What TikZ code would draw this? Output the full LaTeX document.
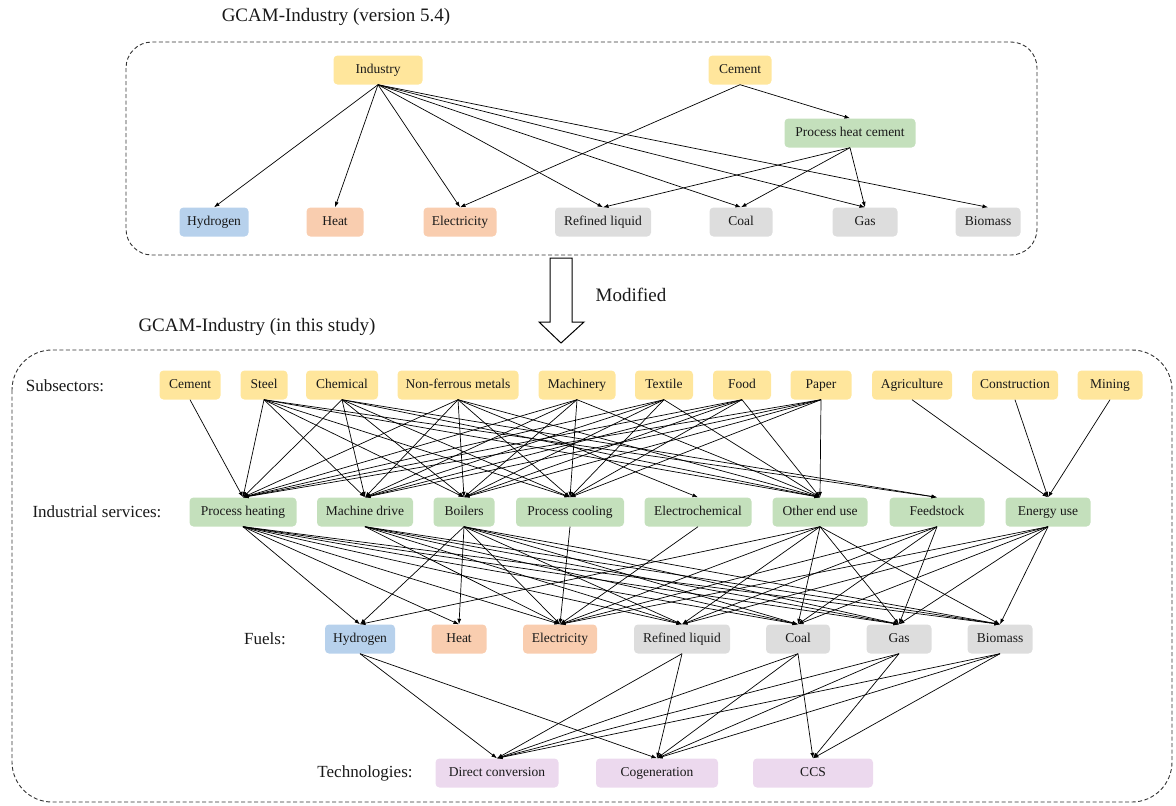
\documentclass[tikz,border=0pt]{standalone}
\usepackage{fontspec}
\setmainfont{Liberation Serif}
\usetikzlibrary{arrows.meta}
\definecolor{cyel}{HTML}{FFE69C}
\definecolor{cgrn}{HTML}{C4E0BC}
\definecolor{cblu}{HTML}{B7D1EC}
\definecolor{cora}{HTML}{F9CDAF}
\definecolor{cgry}{HTML}{DDDDDD}
\definecolor{cpur}{HTML}{ECD9EE}
\tikzset{
  bx/.style={rounded corners=4pt, inner sep=0pt, minimum height=29pt, text height=9.5pt, text depth=3pt, font=\fontsize{13.5}{15}\selectfont, text=black!90},
  yb/.style={bx, fill=cyel},
  gb/.style={bx, fill=cgrn},
  bb/.style={bx, fill=cblu},
  ob/.style={bx, fill=cora},
  rb/.style={bx, fill=cgry},
  pb/.style={bx, fill=cpur},
  lbl/.style={font=\fontsize{17}{20}\selectfont, text=black!90},
  ttl/.style={font=\fontsize{19}{22}\selectfont, text=black!90},
  edge/.style={draw=black, line width=0.7pt, -{Latex[length=5.5pt,width=4pt]}},
  frame/.style={draw=black!80, line width=0.9pt, dash pattern=on 4pt off 2.5pt}
}
\begin{document}
\begin{tikzpicture}[x=1pt,y=-1pt]
\useasboundingbox (0,0) rectangle (1176,806);
% ---------- top part ----------
\node[ttl] (t1) at (336,17) {GCAM-Industry (version 5.4)};
\draw[frame, rounded corners=26pt] (126,42) rectangle (1037,255);
\node[yb, minimum width=89] (ind) at (378,70) {Industry};
\node[yb, minimum width=63] (cemt) at (740,70) {Cement};
\node[gb, minimum width=131] (phc) at (850,133) {Process heat cement};
\node[bb, minimum width=69] (th2) at (214,222) {Hydrogen};
\node[ob, minimum width=57] (theat) at (335,222) {Heat};
\node[ob, minimum width=73] (telec) at (460,222) {Electricity};
\node[rb, minimum width=96] (tref) at (603,222) {Refined liquid};
\node[rb, minimum width=63] (tcoal) at (741,222) {Coal};
\node[rb, minimum width=65] (tgas) at (865,222) {Gas};
\node[rb, minimum width=65] (tbio) at (988,222) {Biomass};
\foreach \b in {th2,theat,telec,tref,tcoal,tgas,tbio}
  \draw[edge] (ind.south) -- (\b.north);
\draw[edge] (cemt.south) -- (telec.north);
\draw[edge] (cemt.south) -- (phc.north);
\foreach \b in {tref,tcoal,tgas}
  \draw[edge] (phc.south) -- (\b.north);
% ---------- modified arrow ----------
\draw[draw=black, line width=1pt, fill=white]
  (550,258) -- (572,258) -- (572,322) -- (584,322) -- (561,343) -- (539,322) -- (550,322) -- cycle;
\node[ttl] (mod) at (631,295) {Modified};
% ---------- bottom part ----------
\node[ttl] (t2) at (257,327) {GCAM-Industry (in this study)};
\draw[frame, rounded corners=40pt] (12,350) rectangle (1172,802);
\node[lbl] (lsub) at (65,386) {Subsectors:};
\node[lbl] (lser) at (97,512) {Industrial services:};
\node[lbl] (lfue) at (265,639) {Fuels:};
\node[lbl] (ltec) at (365,773) {Technologies:};
% subsectors
\node[yb, minimum width=61] (scem) at (190,385) {Cement};
\node[yb, minimum width=47] (sst) at (264,385) {Steel};
\node[yb, minimum width=72] (sch) at (342,385) {Chemical};
\node[yb, minimum width=121] (snf) at (458,385) {Non-ferrous metals};
\node[yb, minimum width=77] (sma) at (577,385) {Machinery};
\node[yb, minimum width=58] (stx) at (664,385) {Textile};
\node[yb, minimum width=58] (sfo) at (742,385) {Food};
\node[yb, minimum width=61] (spa) at (821,385) {Paper};
\node[yb, minimum width=80] (sag) at (912,385) {Agriculture};
\node[yb, minimum width=86] (sco) at (1015,385) {Construction};
\node[yb, minimum width=65] (smi) at (1110,385) {Mining};
% services
\node[gb, minimum width=107] (ph) at (243,512) {Process heating};
\node[gb, minimum width=96] (md) at (365,512) {Machine drive};
\node[gb, minimum width=61] (bo) at (464,512) {Boilers};
\node[gb, minimum width=108] (pc) at (570,512) {Process cooling};
\node[gb, minimum width=107] (ec) at (698,512) {Electrochemical};
\node[gb, minimum width=95] (oe) at (820,512) {Other end use};
\node[gb, minimum width=95] (fe) at (937,512) {Feedstock};
\node[gb, minimum width=85] (eu) at (1048,512) {Energy use};
% fuels
\node[bb, minimum width=70] (h2) at (360,639) {Hydrogen};
\node[ob, minimum width=55] (heat) at (459,639) {Heat};
\node[ob, minimum width=74] (el) at (560,639) {Electricity};
\node[rb, minimum width=96] (rl) at (682,639) {Refined liquid};
\node[rb, minimum width=64] (coal) at (798,639) {Coal};
\node[rb, minimum width=65] (gas) at (899,639) {Gas};
\node[rb, minimum width=65] (bio) at (1000,639) {Biomass};
% technologies
\node[pb, minimum width=123] (dc) at (497,773) {Direct conversion};
\node[pb, minimum width=122] (cg) at (657,773) {Cogeneration};
\node[pb, minimum width=120] (ccs) at (813,773) {CCS};
% subsectors -> services
\draw[edge] (scem.south) -- (ph.north);
\foreach \a in {sst,sch,snf,sma,stx,sfo,spa}
  \foreach \b in {ph,md,bo,pc,oe}
    \draw[edge] (\a.south) -- (\b.north);
\draw[edge] (snf.south) -- (ec.north);
\draw[edge] (sst.south) -- (fe.north);
\draw[edge] (sch.south) -- (fe.north);
\foreach \a in {sag,sco,smi}
  \draw[edge] (\a.south) -- (eu.north);
% services -> fuels
\foreach \a/\b in {ph/h2,ph/heat,ph/el,ph/rl,ph/coal,ph/gas,ph/bio,
  md/el,md/rl,md/coal,md/gas,md/bio,
  bo/h2,bo/heat,bo/el,bo/rl,bo/coal,bo/gas,bo/bio,
  pc/el,ec/el,
  oe/h2,oe/el,oe/rl,oe/coal,oe/gas,oe/bio,
  fe/el,fe/rl,fe/coal,fe/gas,
  eu/el,eu/rl,eu/coal,eu/gas,eu/bio}
  \draw[edge] (\a.south) -- (\b.north);
% fuels -> technologies
\foreach \a/\b in {h2/dc,h2/cg,rl/dc,rl/cg,coal/dc,coal/cg,coal/ccs,
  gas/dc,gas/cg,gas/ccs,bio/dc,bio/cg,bio/ccs}
  \draw[edge] (\a.south) -- (\b.north);
\end{tikzpicture}
\end{document}
